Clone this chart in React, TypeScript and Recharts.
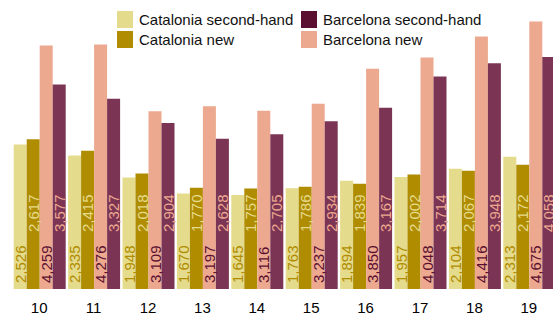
import { Bar, BarChart, LabelList, XAxis, YAxis } from "recharts";

const years = ["10", "11", "12", "13", "14", "15", "16", "17", "18", "19"];
const cataloniaSecondHand = [2526, 2335, 1948, 1670, 1645, 1763, 1894, 1957, 2104, 2313];
const cataloniaNew = [2617, 2415, 2018, 1770, 1757, 1786, 1839, 2002, 2067, 2172];
const barcelonaNew = [4259, 4276, 3109, 3197, 3116, 3237, 3850, 4048, 4416, 4675];
const barcelonaSecondHand = [3577, 3327, 2904, 2628, 2705, 2934, 3167, 3714, 3948, 4058];

const data = years.map((year, i) => ({
  year,
  catSecond: cataloniaSecondHand[i],
  catNew: cataloniaNew[i],
  bcnNew: barcelonaNew[i],
  bcnSecond: barcelonaSecondHand[i],
}));

const font = '"Liberation Sans", Arial, Helvetica, sans-serif';

const colors = {
  catSecond: "#e5db8c",
  catNew: "#b08c00",
  bcnNew: "#eca98f",
  bcnSecond: "#7c3454",
  bcnSecondLegend: "#5b0f30",
};

const legendColumns = [
  [
    { label: "Catalonia second-hand", color: colors.catSecond },
    { label: "Catalonia new", color: colors.catNew },
  ],
  [
    { label: "Barcelona second-hand", color: colors.bcnSecondLegend },
    { label: "Barcelona new", color: colors.bcnNew },
  ],
];

const fmt = (v: number) => v.toLocaleString("en-US");

function makeLabel(color: string, lift: number) {
  return (props: any) => {
    const { x, y, width, height, value } = props;
    const cx = Number(x) + Number(width) / 2;
    const by = Number(y) + Number(height) - lift;
    return (
      <text
        x={cx}
        y={by}
        transform={`rotate(-90 ${cx} ${by})`}
        fill={color}
        fontSize={15}
        fontFamily={font}
        textAnchor="start"
        dominantBaseline="central"
      >
        {fmt(Number(value))}
      </text>
    );
  };
}

function LegendBox() {
  return (
    <div style={{ position: "absolute", left: 0, top: 0, width: 553, height: 50, fontFamily: font, fontSize: 15, color: "#111" }}>
      {legendColumns.map((col, c) =>
        col.map((item, r) => (
          <div
            key={item.label}
            style={{
              position: "absolute",
              left: c === 0 ? 117 : 301,
              top: 11 + r * 20,
              display: "flex",
              alignItems: "center",
              height: 17,
              whiteSpace: "nowrap",
            }}
          >
            <span style={{ display: "inline-block", width: 16, height: 17, background: item.color, marginRight: 6 }} />
            <span>{item.label}</span>
          </div>
        ))
      )}
    </div>
  );
}

export default function App() {
  return (
    <div style={{ position: "absolute", left: 0, top: 0, width: 553, height: 315, overflow: "hidden", background: "#fff" }}>
      <BarChart
        width={557}
        height={315}
        data={data}
        margin={{ top: 3, right: 1, bottom: 0, left: 12 }}
        barCategoryGap={1.7}
        barGap={0}
      >
        <XAxis
          dataKey="year"
          height={26}
          axisLine={false}
          tickLine={false}
          tickSize={6}
          tickMargin={7}
          tick={{ fill: "#000", fontSize: 15, fontFamily: font }}
          interval={0}
        />
        <YAxis hide domain={[0, 5000]} />
        <Bar dataKey="catSecond" fill={colors.catSecond} isAnimationActive={false}>
          <LabelList dataKey="catSecond" content={makeLabel(colors.catNew, 6)} />
        </Bar>
        <Bar dataKey="catNew" fill={colors.catNew} isAnimationActive={false}>
          <LabelList dataKey="catNew" content={makeLabel(colors.catSecond, 57)} />
        </Bar>
        <Bar dataKey="bcnNew" fill={colors.bcnNew} isAnimationActive={false}>
          <LabelList dataKey="bcnNew" content={makeLabel(colors.bcnSecondLegend, 6)} />
        </Bar>
        <Bar dataKey="bcnSecond" fill={colors.bcnSecond} isAnimationActive={false}>
          <LabelList dataKey="bcnSecond" content={makeLabel(colors.bcnNew, 57)} />
        </Bar>
      </BarChart>
      <LegendBox />
    </div>
  );
}
